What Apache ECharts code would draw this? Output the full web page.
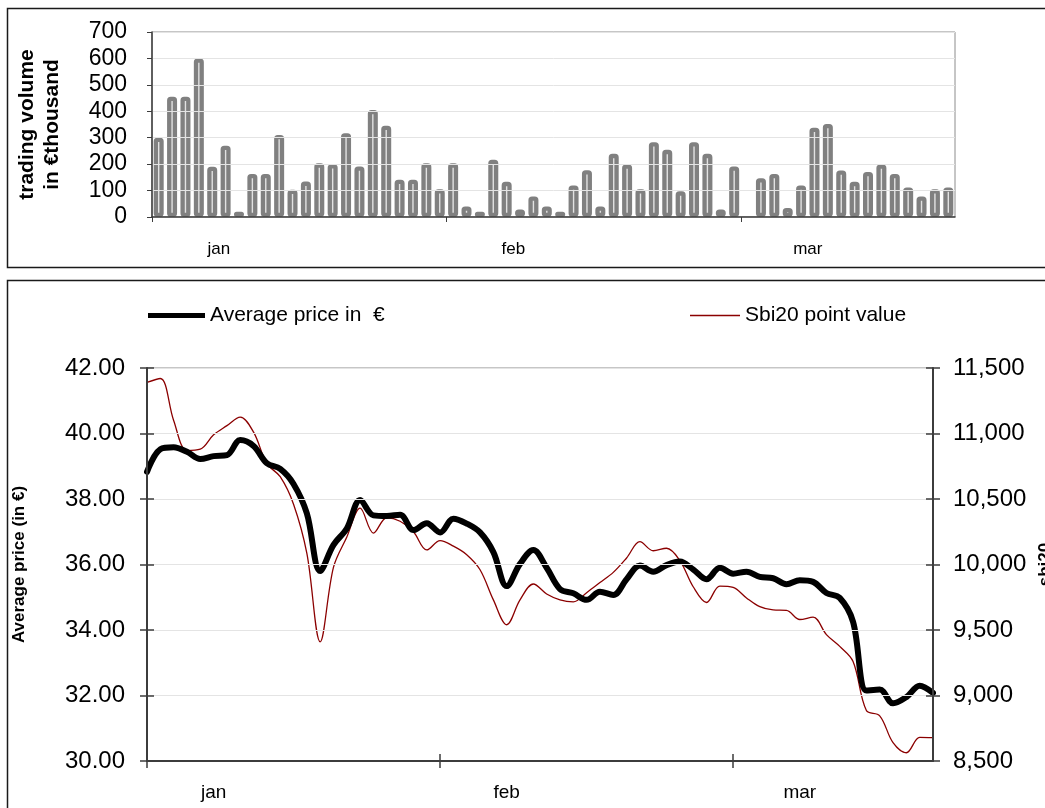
<!DOCTYPE html>
<html>
<head>
<meta charset="utf-8">
<title>Trading volume and average price</title>
<script src="https://cdn.jsdelivr.net/npm/echarts@6/dist/echarts.min.js"></script>
<style>
  html, body { margin: 0; padding: 0; background: #ffffff; }
  #chart { width: 1045px; height: 808px; }
</style>
</head>
<body>
<div id="chart"></div>
<script>
// Trading days of the quarter (one category per session)
const tradingDay = Array.from({ length: 60 }, (_, i) => String(i + 1));
const monthNames = ['jan', 'feb', 'mar'];
const monthFirstDay = [0, 22, 44];

// Daily trading volume, € thousand (no session on day 45)
const volume = [
  300, 455, 455, 600, 190, 270, 20, 163, 163, 310,
  103, 134, 203, 200, 317, 191, 405, 345, 141, 141,
  203, 105, 203, 40, 20, 217, 133, 28, 78, 40,
  20, 119, 177, 40, 239, 199, 105, 283, 254, 97,
  283, 239, 28, 191, null, 147, 163, 34, 119, 338,
  352, 176, 133, 170, 199, 163, 112, 78, 105, 112
];

// Average share price, €
const avgPrice = [
  38.83, 39.52, 39.58, 39.44, 39.22, 39.31, 39.34, 39.80, 39.62, 39.09,
  38.92, 38.46, 37.56, 35.80, 36.60, 37.10, 37.97, 37.50, 37.48, 37.52,
  37.05, 37.26, 36.98, 37.40, 37.25, 36.98, 36.38, 35.34, 36.02, 36.44,
  35.90, 35.25, 35.12, 34.92, 35.17, 35.07, 35.55, 35.97, 35.78, 35.98,
  36.09, 35.85, 35.55, 35.90, 35.72, 35.78, 35.62, 35.58, 35.40, 35.52,
  35.47, 35.13, 34.98, 34.25, 32.15, 32.18, 31.76, 31.95, 32.30, 32.08
];

// SBI20 index, points
const sbi20 = [
  11390, 11420, 11100, 10870, 10880, 10990, 11060, 11125, 11010, 10770,
  10670, 10460, 10085, 9410, 9980, 10210, 10430, 10240, 10357, 10330,
  10250, 10111, 10182, 10140, 10075, 9960, 9730, 9540, 9730, 9851,
  9775, 9730, 9715, 9785, 9862, 9940, 10050, 10174, 10105, 10124,
  10030, 9830, 9710, 9835, 9825, 9745, 9678, 9653, 9650, 9580,
  9598, 9465, 9375, 9260, 8885, 8845, 8640, 8563, 8680, 8678
];

const volumeScale = { min: 0, max: 700, step: 100 };
const priceScale = { min: 30, max: 42, step: 2 };
const sbiScale = { min: 8500, max: 11500, step: 500 };

const PRICE_NAME = 'Average price in  \u20ac';
const SBI_NAME = 'Sbi20 point value';

// Month names sit five sessions after the tick that opens the month
const LABEL_SHIFT = 5;
const labelDays = monthFirstDay.map(d => d + LABEL_SHIFT);
const isMonthTick = i => monthFirstDay.indexOf(i) >= 0;
const isMonthLabel = i => labelDays.indexOf(i) >= 0;
const monthLabel = (v, i) => {
  const k = labelDays.indexOf(i);
  return k < 0 ? '' : monthNames[k];
};
// Slot edges of the volume axis (one more than the sessions)
const volumeEdges = Array.from({ length: tradingDay.length + 1 }, (_, i) => String(i));

const DARK = '#3c3c3c';
const GRID_LINE = '#e4e4e4';
const PRICE_COLOR = '#000000';
const SBI_COLOR = '#8b0000';
const FONT = '"Liberation Sans", Arial, Helvetica, sans-serif';

const chart = echarts.init(document.getElementById('chart'), null, { renderer: 'canvas' });

const option = {
  animation: false,
  backgroundColor: '#ffffff',
  textStyle: { fontFamily: FONT, color: '#000' },
  graphic: [
    { type: 'rect', silent: true, shape: { x: 7.5, y: 8.5, width: 1100, height: 259 },
      style: { fill: 'none', stroke: '#1a1a1a', lineWidth: 1.5 } },
    { type: 'rect', silent: true, shape: { x: 7.5, y: 280.5, width: 1100, height: 600 },
      style: { fill: 'none', stroke: '#1a1a1a', lineWidth: 1.5 } }
  ],
  legend: [
    {
      data: [PRICE_NAME], left: 148, top: 305, padding: 0, orient: 'horizontal',
      icon: 'rect', itemWidth: 57, itemHeight: 5,
      itemStyle: { color: PRICE_COLOR, borderWidth: 0 },
      textStyle: { fontSize: 21, color: '#000', fontFamily: FONT }
    },
    {
      data: [SBI_NAME], left: 690, top: 305, padding: 0, orient: 'horizontal',
      icon: 'rect', itemWidth: 50, itemHeight: 1.3,
      itemStyle: { color: SBI_COLOR, borderWidth: 0 },
      textStyle: { fontSize: 21, color: '#000', fontFamily: FONT }
    }
  ],
  grid: [
    { left: 152, top: 32, width: 803, height: 185, show: true, borderColor: '#8c8c8c', borderWidth: 1,
      containLabel: false, outerBoundsMode: 'none' },
    { left: 147, top: 368, width: 786, height: 393, show: true, borderColor: '#8c8c8c', borderWidth: 1,
      containLabel: false, outerBoundsMode: 'none' }
  ],
  xAxis: [
    // sessions carrying the volume bars
    { gridIndex: 0, type: 'category', position: 'bottom', data: tradingDay, show: false },
    // slot edges carrying month ticks and names
    {
      gridIndex: 0, type: 'category', position: 'bottom', data: volumeEdges, boundaryGap: false, z: 5,
      axisLine: { lineStyle: { color: DARK, width: 1.5 } },
      axisTick: { interval: i => isMonthTick(i), length: 5, lineStyle: { color: DARK, width: 1 } },
      axisLabel: { interval: i => isMonthLabel(i), formatter: monthLabel, fontSize: 17, margin: 24, color: '#000' },
      splitLine: { show: false }
    },
    {
      gridIndex: 1, type: 'category', position: 'bottom', data: tradingDay, boundaryGap: false, z: 5,
      axisLine: { lineStyle: { color: DARK, width: 2 } },
      axisTick: { interval: i => isMonthTick(i), length: 7, lineStyle: { color: DARK, width: 1.5 } },
      axisLabel: { interval: i => isMonthLabel(i), formatter: monthLabel, fontSize: 19, margin: 22, color: '#000' },
      splitLine: { show: false }
    },
    // inner half of the crossing month ticks
    {
      gridIndex: 1, type: 'category', position: 'bottom', data: tradingDay, boundaryGap: false, z: 5,
      axisLine: { show: false },
      axisTick: { inside: true, interval: i => isMonthTick(i), length: 7, lineStyle: { color: DARK, width: 1.5 } },
      axisLabel: { show: false },
      splitLine: { show: false }
    }
  ],
  yAxis: [
    {
      gridIndex: 0, type: 'value', position: 'left', z: 5,
      min: volumeScale.min, max: volumeScale.max, interval: volumeScale.step,
      axisLine: { show: true, lineStyle: { color: DARK, width: 1.5 } },
      axisTick: { show: true, length: 5, lineStyle: { color: DARK } },
      axisLabel: { fontSize: 23, margin: 25, color: '#000' },
      splitLine: { show: true, lineStyle: { color: GRID_LINE, width: 1 } },
      name: 'trading volume\nin \u20acthousand', nameLocation: 'middle', nameGap: 87,
      nameTextStyle: { fontSize: 21, fontWeight: 'bold', lineHeight: 25, color: '#000', fontFamily: FONT }
    },
    {
      gridIndex: 1, type: 'value', position: 'left', z: 5,
      min: priceScale.min, max: priceScale.max, interval: priceScale.step,
      axisLine: { show: true, lineStyle: { color: DARK, width: 2 } },
      axisTick: { show: true, length: 7, lineStyle: { color: DARK, width: 1.5 } },
      axisLabel: { fontSize: 24, margin: 22, color: '#000', formatter: v => v.toFixed(2) },
      splitLine: { show: true, lineStyle: { color: GRID_LINE, width: 1 } },
      name: 'Average price (in \u20ac)', nameLocation: 'middle', nameGap: 119,
      nameTextStyle: { fontSize: 17, fontWeight: 'bold', color: '#000', fontFamily: FONT }
    },
    {
      gridIndex: 1, type: 'value', position: 'right', z: 5,
      min: sbiScale.min, max: sbiScale.max, interval: sbiScale.step,
      axisLine: { show: true, lineStyle: { color: DARK, width: 2 } },
      axisTick: { show: true, length: 7, lineStyle: { color: DARK, width: 1.5 } },
      axisLabel: { fontSize: 24, margin: 20, color: '#000', formatter: v => v.toLocaleString('en-US') },
      splitLine: { show: false },
      name: 'sbi20', nameLocation: 'middle', nameGap: 103,
      nameTextStyle: { fontSize: 17, fontWeight: 'bold', color: '#000', fontFamily: FONT }
    },
    // inner halves of the crossing value ticks
    {
      gridIndex: 1, type: 'value', position: 'left', z: 5,
      min: priceScale.min, max: priceScale.max, interval: priceScale.step,
      axisLine: { show: false }, axisLabel: { show: false }, splitLine: { show: false },
      axisTick: { show: true, inside: true, length: 7, lineStyle: { color: DARK, width: 1.5 } }
    },
    {
      gridIndex: 1, type: 'value', position: 'right', z: 5,
      min: sbiScale.min, max: sbiScale.max, interval: sbiScale.step,
      axisLine: { show: false }, axisLabel: { show: false }, splitLine: { show: false },
      axisTick: { show: true, inside: true, length: 7, lineStyle: { color: DARK, width: 1.5 } }
    }
  ],
  series: [
    {
      name: 'trading volume', type: 'bar', xAxisIndex: 0, yAxisIndex: 0,
      data: volume, barWidth: 10,
      itemStyle: { color: '#e2e2e2', borderColor: '#808080', borderWidth: 4.3, borderRadius: 1.5 }
    },
    {
      name: SBI_NAME, type: 'line', xAxisIndex: 2, yAxisIndex: 2,
      data: sbi20, smooth: 0.35, symbol: 'none',
      lineStyle: { color: SBI_COLOR, width: 1.3 }, itemStyle: { color: SBI_COLOR }
    },
    {
      name: PRICE_NAME, type: 'line', xAxisIndex: 2, yAxisIndex: 1,
      data: avgPrice, smooth: 0.35, symbol: 'none',
      lineStyle: { color: PRICE_COLOR, width: 6, join: 'round', cap: 'round' }, itemStyle: { color: PRICE_COLOR }
    }
  ]
};

chart.setOption(option);
</script>
</body>
</html>
